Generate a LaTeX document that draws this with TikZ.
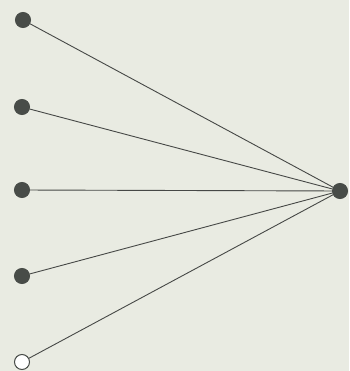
\documentclass[tikz,border=0pt]{standalone}
\usepackage{tikz}
\definecolor{fondo}{RGB}{233,235,226}
\definecolor{punto}{RGB}{72,76,72}
\definecolor{linea}{RGB}{70,72,70}

\begin{document}
\begin{tikzpicture}[x=1pt, y=-1pt,
  vertice/.style={circle, draw=punto, fill=punto, line width=1pt,
    minimum size=15pt, inner sep=0pt},
  abierto/.style={vertice, fill=white},
  arista/.style={draw=linea, line width=0.9pt},
]
  % Fondo y margenes
  \fill[fondo] (0,0) rectangle (349,371);
  \useasboundingbox (0,0) rectangle (349,371);
  % Vertices
  \node[vertice] (r) at (340,191) {};
  \node[vertice] (l1) at (23,20) {};
  \node[vertice] (l2) at (22,107) {};
  \node[vertice] (l3) at (22,190) {};
  \node[vertice] (l4) at (22,276) {};
  \node[abierto] (l5) at (22,362) {};
  % Aristas
  \foreach \i in {1,...,5}
    \draw[arista] (l\i) -- (r);
\end{tikzpicture}
\end{document}
